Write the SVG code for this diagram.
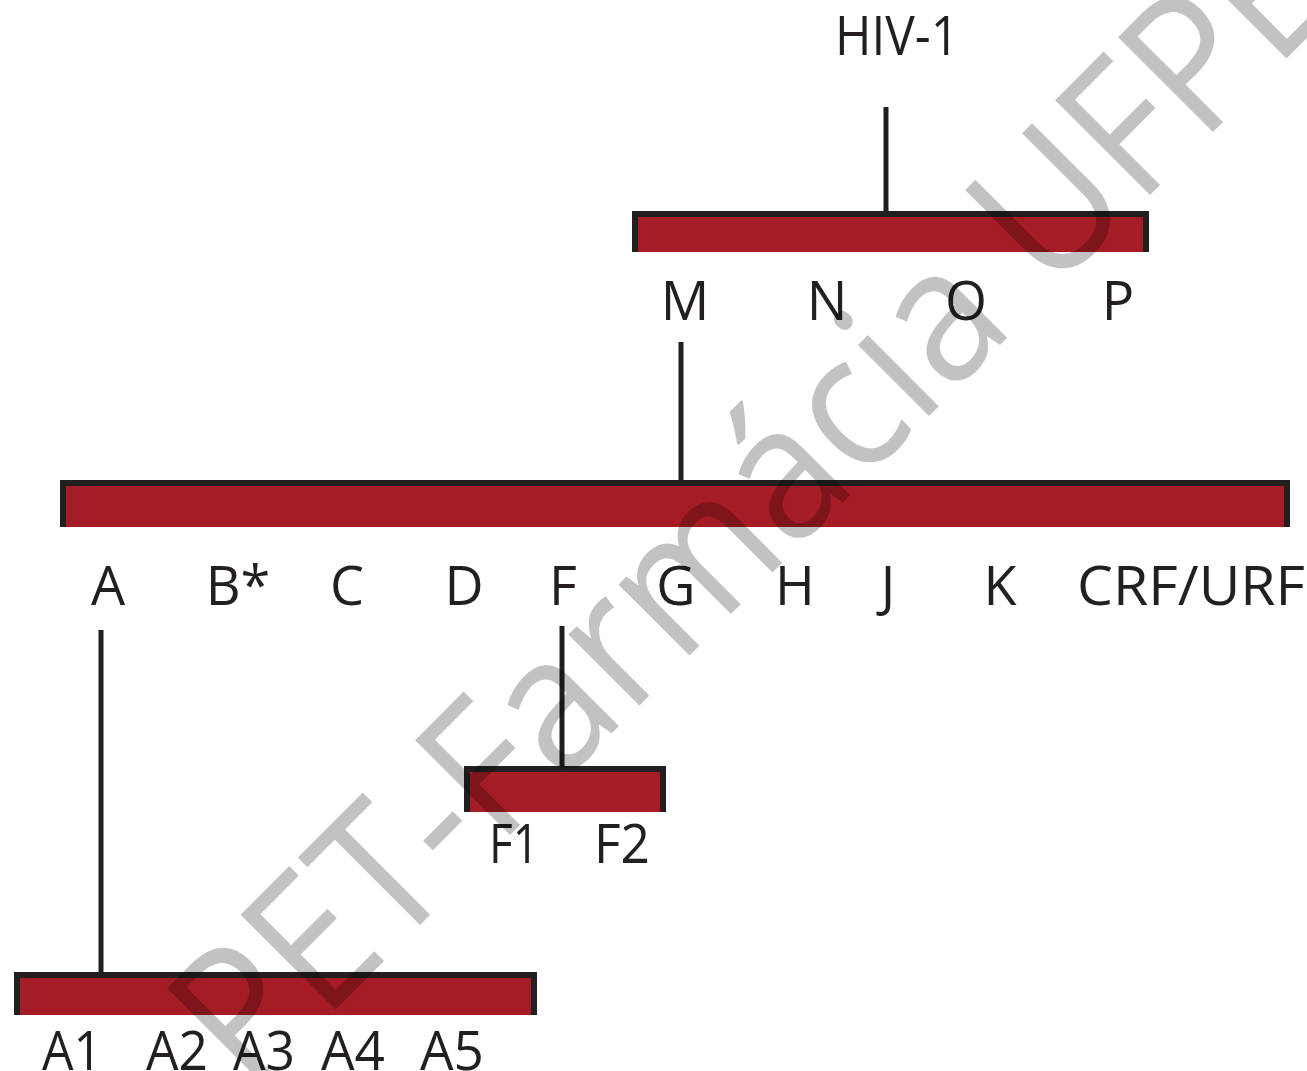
<svg xmlns="http://www.w3.org/2000/svg" width="1307" height="1071" viewBox="0 0 1307 1071">
<style>
.lbl{font-family:"Open Sans","Noto Sans","DejaVu Sans",sans-serif;font-size:54px;fill:#231F20;text-anchor:middle}
.bar{fill:#A51C24}
.frame{fill:none;stroke:#231F20;stroke-width:6;stroke-linejoin:miter}
.conn{stroke:#231F20;stroke-width:5;fill:none}
.wm{font-family:"Open Sans","Noto Sans","DejaVu Sans",sans-serif;font-size:188px;fill:#000;fill-opacity:0.24}
</style>
<rect width="1307" height="1071" fill="#fff"/>
<g id="connectors">
<line class="conn" x1="886" y1="107" x2="886" y2="212"/>
<line class="conn" x1="681" y1="342" x2="681" y2="481"/>
<line class="conn" x1="101" y1="630" x2="101" y2="973"/>
<line class="conn" x1="562" y1="626" x2="562" y2="767"/>
</g>
<g id="node-hiv1">
<text class="lbl" x="897" y="55" textLength="124" lengthAdjust="spacingAndGlyphs">HIV-1</text>
</g>
<g id="node-groups">
<rect class="bar" x="632" y="211" width="517" height="41"/>
<path class="frame" d="M635,252 V214 H1146 V252"/>
<text class="lbl" x="685" y="320">M</text>
<text class="lbl" x="827" y="320">N</text>
<text class="lbl" x="966" y="320">O</text>
<text class="lbl" x="1118" y="320">P</text>
</g>
<g id="node-subtypes">
<rect class="bar" x="60" y="480" width="1230" height="47"/>
<path class="frame" d="M63,527 V483 H1287 V527"/>
<text class="lbl" x="108" y="605">A</text>
<text class="lbl" x="238" y="605">B*</text>
<text class="lbl" x="347" y="605">C</text>
<text class="lbl" x="464" y="605">D</text>
<text class="lbl" x="563" y="605">F</text>
<text class="lbl" x="676" y="605">G</text>
<text class="lbl" x="795" y="605">H</text>
<text class="lbl" x="888" y="605">J</text>
<text class="lbl" x="1000" y="605">K</text>
<text class="lbl" x="1191" y="605" textLength="228" lengthAdjust="spacingAndGlyphs">CRF/URF</text>
</g>
<g id="node-f">
<rect class="bar" x="464" y="766" width="202" height="46"/>
<path class="frame" d="M467,812 V769 H663 V812"/>
<text class="lbl" x="514" y="863" textLength="50" lengthAdjust="spacingAndGlyphs">F1</text>
<text class="lbl" x="622" y="863" textLength="56" lengthAdjust="spacingAndGlyphs">F2</text>
</g>
<g id="node-a">
<rect class="bar" x="14" y="972" width="523" height="43"/>
<path class="frame" d="M17,1015 V975 H534 V1015"/>
<text class="lbl" x="72" y="1070" textLength="60" lengthAdjust="spacingAndGlyphs">A1</text>
<text class="lbl" x="177" y="1070" textLength="62" lengthAdjust="spacingAndGlyphs">A2</text>
<text class="lbl" x="264" y="1070" textLength="62" lengthAdjust="spacingAndGlyphs">A3</text>
<text class="lbl" x="353" y="1070" textLength="64" lengthAdjust="spacingAndGlyphs">A4</text>
<text class="lbl" x="452" y="1070" textLength="64" lengthAdjust="spacingAndGlyphs">A5</text>
</g>
<g id="watermark">
<text class="wm" transform="translate(250,1095) rotate(-45)" textLength="1545" lengthAdjust="spacingAndGlyphs">PET-Farmácia UFPE</text>
</g>
</svg>
